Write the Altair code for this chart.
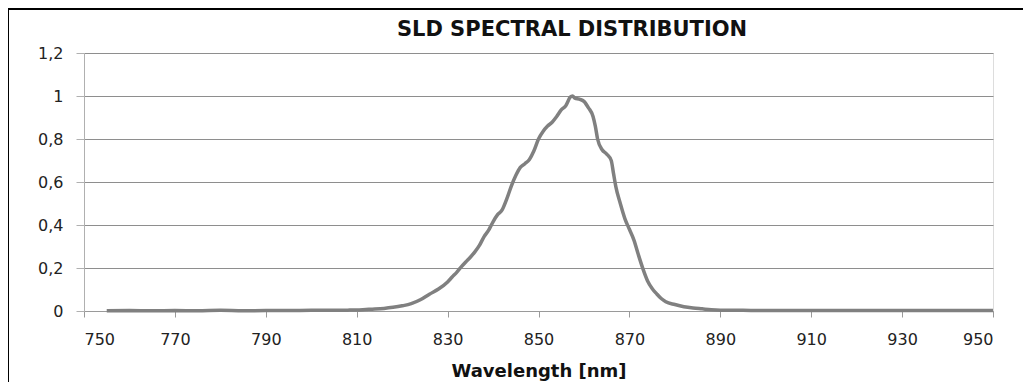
import altair as alt
import pandas as pd

# Data
wavelength = [755, 760, 765, 770, 775, 780, 785, 790, 795, 800, 805, 808, 810, 812, 814, 816, 818,
              820, 822, 824, 826, 828, 830, 831, 832, 833, 834, 835, 836, 837, 838, 839, 840, 841,
              842, 843, 844, 845, 846, 847, 848, 849, 850, 851, 852, 853, 854, 855, 856, 857, 857.5,
              858, 859, 860, 861, 862, 862.5, 863, 864, 865, 866, 866.5, 867, 868, 869, 870, 871,
              872, 873, 874, 875, 876, 877, 878, 880, 882, 884, 886, 888, 890, 895, 900, 910, 920,
              930, 940, 950]
intensity = [0.001, 0.002, 0.001, 0.002, 0.001, 0.003, 0.001, 0.002, 0.002, 0.003, 0.003, 0.004,
             0.005, 0.007, 0.009, 0.012, 0.017, 0.024, 0.034, 0.052, 0.078, 0.102, 0.135, 0.158,
             0.180, 0.205, 0.228, 0.250, 0.275, 0.305, 0.345, 0.375, 0.415, 0.448, 0.470, 0.520,
             0.580, 0.630, 0.668, 0.685, 0.705, 0.745, 0.800, 0.835, 0.860, 0.878, 0.905, 0.935,
             0.955, 0.995, 1.000, 0.990, 0.985, 0.975, 0.945, 0.905, 0.860, 0.800, 0.750, 0.730,
             0.700, 0.640, 0.580, 0.500, 0.430, 0.380, 0.330, 0.260, 0.195, 0.140, 0.105, 0.080,
             0.058, 0.043, 0.030, 0.020, 0.014, 0.010, 0.006, 0.004, 0.003, 0.002, 0.002, 0.002,
             0.002, 0.002, 0.002]
x_ticks = [750, 770, 790, 810, 830, 850, 870, 890, 910, 930, 950]
y_ticks = [0, 0.2, 0.4, 0.6, 0.8, 1.0, 1.2]
title_text = ["SLD SPECTRAL DISTRIBUTION"]

df = pd.DataFrame({"wl": wavelength, "val": intensity})

FONT = "DejaVu Sans"

line = alt.Chart(df).mark_line(color="#808080", strokeWidth=3.5, interpolate="monotone").encode(
    x=alt.X("wl:Q",
            scale=alt.Scale(domain=[750, 950], nice=False, zero=False),
            axis=alt.Axis(values=x_ticks, title="Wavelength [nm]", grid=False,
                          labelFont=FONT, labelFontSize=16, labelColor="#222222",
                          labelPadding=14, tickSize=6, tickColor="#9a9a9a",
                          domainColor="#9a9a9a", titleFont=FONT, titleFontSize=18,
                          titleFontWeight="bold", titleColor="#111111", titlePadding=15)),
    y=alt.Y("val:Q",
            scale=alt.Scale(domain=[0, 1.2], nice=False),
            axis=alt.Axis(values=y_ticks, title=None, grid=True, gridColor="#8e8e8e",
                          labelExpr="replace(format(datum.value, '.1~f'), '.', ',')",
                          labelFont=FONT, labelFontSize=16, labelColor="#222222",
                          labelPadding=13, tickSize=8, tickColor="#b0b0b0",
                          domainColor="#b0b0b0")),
)

title = alt.Chart(pd.DataFrame({"t": title_text})).mark_text(
    font=FONT, fontSize=21, fontWeight="bold", color="#111111",
    align="center", baseline="middle").encode(
    text="t:N", x=alt.value(488), y=alt.value(-23))

frame_data = pd.DataFrame({"k": [0]})
top_rule = alt.Chart(frame_data).mark_rule(color="black", strokeWidth=2).encode(
    x=alt.value(-76), x2=alt.value(950), y=alt.value(-44))
left_rule = alt.Chart(frame_data).mark_rule(color="black", strokeWidth=2).encode(
    x=alt.value(-76), y=alt.value(-44), y2=alt.value(345))

chart = alt.layer(line, title, top_rule, left_rule).properties(
    width=909, height=258,
    autosize="none",
    padding={"left": 76, "top": 45, "right": 30, "bottom": 71},
).configure_view(stroke=None).configure(background="white")

chart.save("out.html", embed_options={"renderer": "svg", "actions": False})
